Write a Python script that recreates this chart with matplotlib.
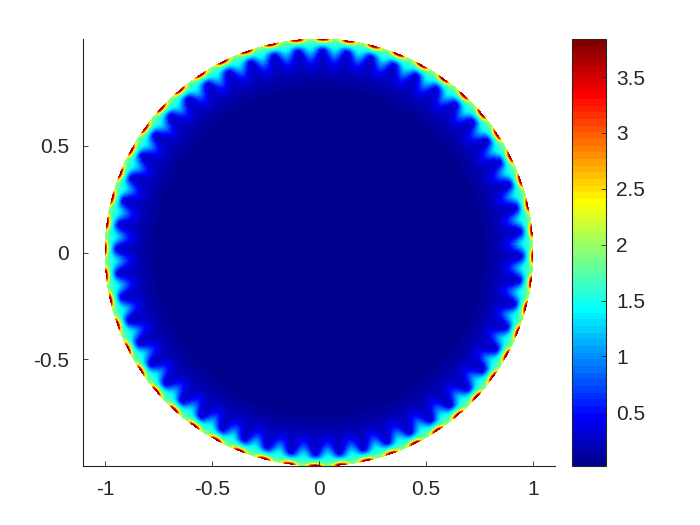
import numpy as np
import matplotlib
matplotlib.use('Agg')
import matplotlib.pyplot as plt
import matplotlib.tri as mtri
from matplotlib.colors import LinearSegmentedColormap, Normalize
from matplotlib.cm import ScalarMappable

plt.rcParams['font.family'] = ['Liberation Sans', 'DejaVu Sans']

# values: radius and field along one ripple period
radius = [0.0, 0.60, 0.70, 0.76, 0.80, 0.84, 0.87, 0.89, 0.91, 0.93, 0.95, 0.96, 0.97, 0.98, 0.99, 1.0]
at_notch = [0.02, 0.025, 0.035, 0.06, 0.10, 0.17, 0.24, 0.24, 0.22, 0.22, 0.30, 0.75, 1.20, 1.60, 2.30, 3.84]
at_eighth = [0.02, 0.025, 0.035, 0.06, 0.10, 0.17, 0.25, 0.27, 0.28, 0.33, 0.52, 0.87, 1.25, 1.60, 2.15, 3.50]
at_quarter = [0.02, 0.025, 0.035, 0.06, 0.10, 0.18, 0.27, 0.33, 0.42, 0.56, 0.88, 1.12, 1.38, 1.60, 1.85, 2.60]
at_three_eighths = [0.02, 0.025, 0.035, 0.06, 0.10, 0.19, 0.31, 0.42, 0.60, 0.86, 1.18, 1.34, 1.50, 1.62, 1.75, 2.00]
at_bump = [0.02, 0.025, 0.035, 0.06, 0.10, 0.20, 0.34, 0.48, 0.72, 1.02, 1.32, 1.44, 1.55, 1.65, 1.75, 1.85]
n_ripples = 52
ripple_offset_deg = -1.0

vmin = 0.02
vmax = 3.84
xticks = [-1, -0.5, 0, 0.5, 1]
xticklabels = ['-1', '-0.5', '0', '0.5', '1']
yticks = [-0.5, 0, 0.5]
yticklabels = ['-0.5', '0', '0.5']
cbar_ticks = [0.5, 1, 1.5, 2, 2.5, 3, 3.5]
cbar_ticklabels = ['0.5', '1', '1.5', '2', '2.5', '3', '3.5']

# matlab jet(64)
jet_stops = [(0, (0, 0, 0.5625)), (7/63, (0, 0, 1)), (23/63, (0, 1, 1)),
             (39/63, (1, 1, 0)), (55/63, (1, 0, 0)), (1, (0.5, 0, 0))]
jet64 = LinearSegmentedColormap.from_list('jet64', jet_stops, N=64)

# repeat the ripple period around the disc
r = np.array(radius)
profiles = np.array([at_notch, at_eighth, at_quarter, at_three_eighths, at_bump])
one_period = profiles[[0, 1, 2, 3, 4, 3, 2, 1]]
field = np.tile(one_period, (n_ripples, 1))
nth = field.shape[0]
th = np.deg2rad(ripple_offset_deg) + 2 * np.pi * np.arange(nth) / nth
R, T = np.meshgrid(r, th, indexing='ij')
X = R * np.cos(T)
Y = R * np.sin(T)
Z = field.T

# triangles for the polar grid
nr = len(r)
tris = []
for i in range(nr - 1):
    for j in range(nth):
        a = i * nth + j
        b = i * nth + (j + 1) % nth
        c = (i + 1) * nth + j
        d = (i + 1) * nth + (j + 1) % nth
        if i > 0:
            tris.append([a, c, d])
            tris.append([a, d, b])
        else:
            tris.append([a, c, d])
tri = mtri.Triangulation(X.ravel(), Y.ravel(), np.array(tris))

fig = plt.figure(figsize=(7, 5.25), dpi=100)
ax = fig.add_axes([83/700, 1 - 466/525, 472/700, 427/525])
levels = np.linspace(vmin, vmax, 65)
ax.tricontourf(tri, Z.ravel(), levels=levels, cmap=jet64, vmin=vmin, vmax=vmax, antialiased=True, extend='both')
ax.tricontourf(tri, Z.ravel(), levels=levels, cmap=jet64, vmin=vmin, vmax=vmax, antialiased=False, extend='both')

ax.set_xlim(-1.103, 1.103)
ax.set_ylim(-1, 1)
ax.spines['top'].set_visible(False)
ax.spines['right'].set_visible(False)
for s in ['left', 'bottom']:
    ax.spines[s].set_color('#262626')
    ax.spines[s].set_linewidth(0.8)
ax.set_xticks(xticks)
ax.set_xticklabels(xticklabels)
ax.set_yticks(yticks)
ax.set_yticklabels(yticklabels)
ax.tick_params(direction='in', length=3.4, width=0.6, color='#262626', labelcolor='#262626',
               labelsize=15, pad=10)

cax = fig.add_axes([572/700, 1 - 466/525, 34/700, 427/525])
cb = fig.colorbar(ScalarMappable(Normalize(vmin, vmax), jet64), cax=cax)
cb.set_ticks(cbar_ticks)
cb.set_ticklabels(cbar_ticklabels)
cb.ax.tick_params(direction='in', length=3.4, width=0.6, color='#262626', labelcolor='#262626',
                  labelsize=15, pad=7.5)
cb.outline.set_edgecolor('#262626')
cb.outline.set_linewidth(0.8)

fig.savefig('out.png', dpi=100)
plt.close()
